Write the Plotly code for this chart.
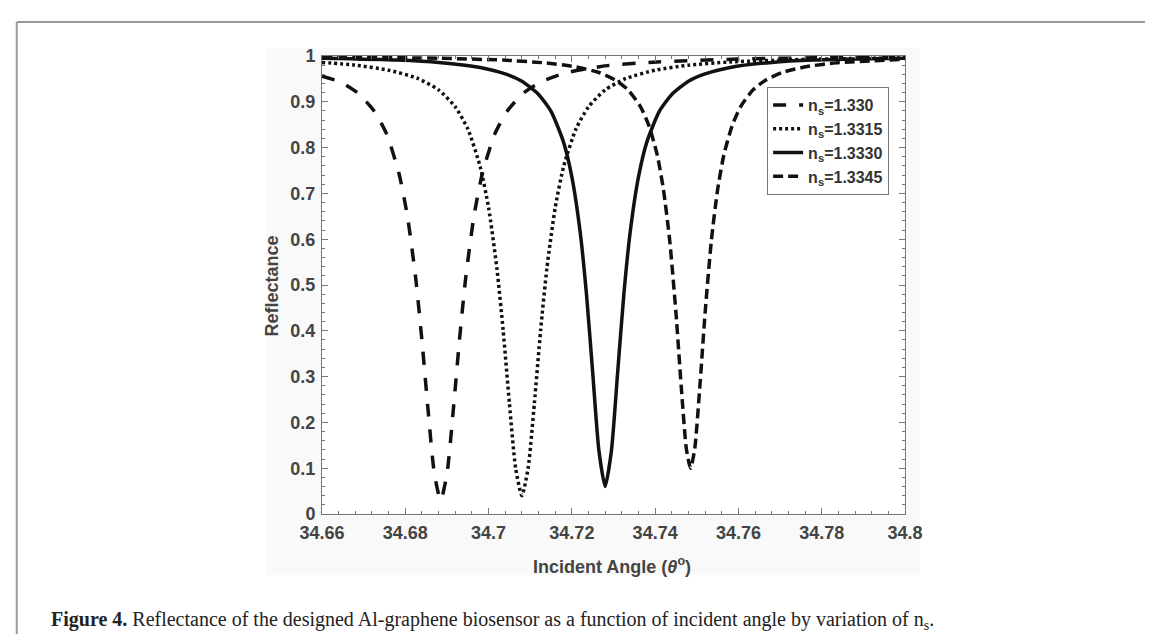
import plotly.graph_objects as go

# ---------------- data ----------------
names = ["n<sub>s</sub>=1.330", "n<sub>s</sub>=1.3315", "n<sub>s</sub>=1.3330", "n<sub>s</sub>=1.3345"]

x_1330 = [34.66, 34.6645, 34.6685, 34.6725, 34.6755, 34.6785, 34.6805, 34.6825, 34.684, 34.6855,
          34.687, 34.6885, 34.69, 34.6915, 34.693, 34.6945, 34.6965, 34.6985, 34.7015, 34.7045,
          34.7085, 34.7125, 34.7185, 34.7285, 34.7385, 34.7585, 34.7785, 34.8]
r_1330 = [0.956, 0.943, 0.920, 0.880, 0.830, 0.743, 0.651, 0.515, 0.379, 0.224,
          0.087, 0.030, 0.087, 0.224, 0.379, 0.515, 0.651, 0.743, 0.830, 0.880,
          0.920, 0.943, 0.963, 0.979, 0.986, 0.993, 0.996, 0.997]

x_13315 = [34.66, 34.668, 34.676, 34.683, 34.688, 34.692, 34.695, 34.698, 34.700, 34.702,
           34.7035, 34.705, 34.7065, 34.708, 34.7095, 34.711, 34.7125, 34.714, 34.716, 34.718,
           34.721, 34.724, 34.728, 34.733, 34.740, 34.748, 34.758, 34.778, 34.8]
r_13315 = [0.986, 0.980, 0.969, 0.951, 0.926, 0.889, 0.841, 0.758, 0.669, 0.536,
           0.401, 0.242, 0.100, 0.040, 0.100, 0.242, 0.401, 0.536, 0.669, 0.758,
           0.841, 0.889, 0.926, 0.951, 0.969, 0.980, 0.987, 0.993, 0.996]

x_13330 = [34.66, 34.678, 34.688, 34.698, 34.704, 34.708, 34.712, 34.715, 34.718, 34.720,
           34.722, 34.7235, 34.725, 34.7265, 34.728, 34.7295, 34.731, 34.7325, 34.734, 34.736,
           34.738, 34.741, 34.744, 34.748, 34.752, 34.758, 34.768, 34.778, 34.8]
r_13330 = [0.995, 0.991, 0.986, 0.975, 0.961, 0.945, 0.916, 0.879, 0.812, 0.736,
           0.615, 0.481, 0.309, 0.138, 0.060, 0.138, 0.309, 0.481, 0.615, 0.736,
           0.812, 0.879, 0.916, 0.945, 0.961, 0.975, 0.986, 0.991, 0.995]

x_13345 = [34.66, 34.6885, 34.7035, 34.7135, 34.7205, 34.7265, 34.7305, 34.7335, 34.7365, 34.7385,
           34.7405, 34.742, 34.7435, 34.745, 34.7463, 34.7475, 34.7485, 34.7495, 34.7507, 34.752,
           34.7535, 34.755, 34.7565, 34.7585, 34.7605, 34.7635, 34.7665, 34.7705, 34.7765, 34.7835, 34.8]
r_13345 = [0.998, 0.995, 0.991, 0.985, 0.977, 0.964, 0.947, 0.926, 0.889, 0.848,
           0.784, 0.708, 0.597, 0.439, 0.274, 0.142, 0.100, 0.142, 0.274, 0.439,
           0.597, 0.708, 0.784, 0.848, 0.889, 0.926, 0.947, 0.964, 0.977, 0.985, 0.993]

x_ticks = [34.66, 34.68, 34.70, 34.72, 34.74, 34.76, 34.78, 34.80]
x_ticktext = ["34.66", "34.68", "34.7", "34.72", "34.74", "34.76", "34.78", "34.8"]
y_ticks = [0, 0.1, 0.2, 0.3, 0.4, 0.5, 0.6, 0.7, 0.8, 0.9, 1.0]
y_ticktext = ["0", "0.1", "0.2", "0.3", "0.4", "0.5", "0.6", "0.7", "0.8", "0.9", "1"]

x_title = "Incident Angle (<i>θ</i><sup>o</sup>)"
y_title = "Reflectance"
caption = ("<b>Figure 4.</b> Reflectance of the designed Al-graphene biosensor as a function "
           "of incident angle by variation of n<sub>s</sub>.")

# ---------------- figure ----------------
series = [
    (x_1330, r_1330, names[0], "13px,13px"),
    (x_13315, r_13315, names[1], "3px,3px"),
    (x_13330, r_13330, names[2], "solid"),
    (x_13345, r_13345, names[3], "10px,5px"),
]

fig = go.Figure()
for xs, ys, nm, dash in series:
    fig.add_trace(go.Scatter(x=xs, y=ys, name=nm, mode="lines",
                             line=dict(color="#111111", width=3.5, dash=dash, shape="spline", smoothing=0.6)))

axis_font = dict(family="Arial, Liberation Sans", size=18, color="#444444", weight="bold")

fig.update_xaxes(range=[34.66, 34.8], tickvals=x_ticks, ticktext=x_ticktext,
                 ticks="inside", ticklen=6, tickcolor="#777", tickwidth=1,
                 showline=True, linecolor="#777", linewidth=1, mirror="allticks",
                 showgrid=False, zeroline=False, tickfont=axis_font, ticklabelstandoff=2,
                 minor=dict(dtick=0.004, ticks="inside", ticklen=3, tickcolor="#777", showgrid=False))
fig.update_yaxes(range=[0, 1], tickvals=y_ticks, ticktext=y_ticktext,
                 ticks="inside", ticklen=6, tickcolor="#777", tickwidth=1,
                 showline=True, linecolor="#777", linewidth=1, mirror="allticks",
                 showgrid=False, zeroline=False, tickfont=axis_font, ticklabelstandoff=2,
                 minor=dict(dtick=0.02, ticks="inside", ticklen=3, tickcolor="#777", showgrid=False))

W, H = 1153, 634
L, R, T, B = 313.5, 897, 48, 506
def px(x):
    return (x - L) / (R - L)
def py(y):
    return (B - y) / (B - T)

fig.update_layout(
    width=W, height=H,
    margin=dict(l=L, r=W - R, t=T, b=H - B),
    paper_bgcolor="white", plot_bgcolor="white",
    showlegend=True,
    legend=dict(x=px(759), y=py(79), xanchor="left", yanchor="top",
                bgcolor="white", bordercolor="#777", borderwidth=1,
                font=dict(family="Arial, Liberation Sans", size=16, color="#333", weight="bold"),
                tracegroupgap=0),
    shapes=[
        dict(type="rect", xref="paper", yref="paper", x0=px(258), x1=px(912), y0=py(40), y1=py(567),
             fillcolor="#f9f9f9", line=dict(width=0), layer="below"),
        dict(type="rect", xref="paper", yref="paper", x0=0, x1=1, y0=0, y1=1,
             fillcolor="white", line=dict(width=0), layer="below"),
        dict(type="line", xref="paper", yref="paper", x0=px(8), x1=px(1160), y0=py(14), y1=py(14),
             line=dict(color="#999", width=2)),
        dict(type="line", xref="paper", yref="paper", x0=px(8), x1=px(8), y0=py(14), y1=py(640),
             line=dict(color="#999", width=2)),
    ],
    annotations=[
        dict(text=x_title, xref="paper", yref="paper", x=px(604), y=py(557), showarrow=False,
             xanchor="center", yanchor="middle",
             font=dict(family="Arial, Liberation Sans", size=18, color="#444", weight="bold")),
        dict(text=y_title, xref="paper", yref="paper", x=px(263), y=py(278), showarrow=False,
             textangle=-90, xanchor="center", yanchor="middle",
             font=dict(family="Arial, Liberation Sans", size=18, color="#444", weight="bold")),
        dict(text=caption, xref="paper", yref="paper", x=px(40), y=py(612), showarrow=False,
             xanchor="left", yanchor="middle",
             font=dict(family="Liberation Serif, DejaVu Serif", size=20, color="#222")),
    ],
)

fig.write_html("out.html")
